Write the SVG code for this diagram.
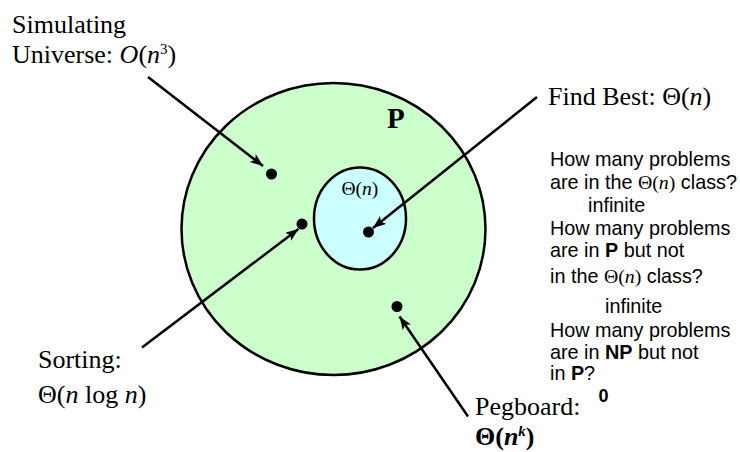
<svg xmlns="http://www.w3.org/2000/svg" width="740" height="452" viewBox="0 0 740 452">
<style>
.t{font-family:"Liberation Serif","Times New Roman",serif;font-size:26px;fill:#000}
.a{font-family:"Liberation Sans",Arial,sans-serif;font-size:19.8px;fill:#000}
.i{font-style:italic}
.b{font-weight:bold}
.ser{font-family:"Liberation Serif","Times New Roman",serif}
.sup{font-size:15px}
.fp{font-size:29px}
.fth{font-size:19.5px}
.fz{font-size:18px}
.ring{stroke:#000;stroke-width:2.5}
.con{stroke:#000;stroke-width:2.5;fill:none;marker-end:url(#ah)}
</style>
<defs>
<marker id="ah" markerUnits="userSpaceOnUse" markerWidth="14" markerHeight="10" refX="13" refY="5" orient="auto">
<path d="M0,0 L13,5 L0,10 L3,5 z" fill="#000"/>
</marker>
</defs>
<rect width="740" height="452" fill="#fff"/>
<g id="P">
<ellipse class="ring" cx="333.5" cy="229" rx="152" ry="146" fill="#ccffcc"/>
<text class="t b fp" x="387" y="128">P</text>
</g>
<g id="theta-n">
<ellipse class="ring" cx="360" cy="218.5" rx="46" ry="51" fill="#ccffff"/>
<text class="t fth" x="341.5" y="195">Θ(<tspan class="i">n</tspan>)</text>
</g>
<g id="dot-sim"><circle cx="271.5" cy="174" r="5.5" fill="#000"/></g>
<g id="dot-sort"><circle cx="302" cy="224" r="5.5" fill="#000"/></g>
<g id="dot-best"><circle cx="368.5" cy="232" r="5.5" fill="#000"/></g>
<g id="dot-peg"><circle cx="397" cy="306.5" r="5.5" fill="#000"/></g>
<g id="connectors">
<line class="con" x1="148" y1="77" x2="263" y2="166"/>
<line class="con" x1="142" y1="347.5" x2="298.5" y2="229"/>
<line class="con" x1="537" y1="97" x2="373" y2="228"/>
<line class="con" x1="468" y1="416.5" x2="399.5" y2="316.5"/>
</g>
<g id="label-sim">
<text class="t" x="12" y="33">Simulating</text>
<text class="t" x="12" y="63">Universe: <tspan class="i">O</tspan>(<tspan class="i">n</tspan><tspan class="sup" dy="-9">3</tspan><tspan dy="9">)</tspan></text>
</g>
<g id="label-best">
<text class="t" x="548" y="105">Find Best: Θ(<tspan class="i">n</tspan>)</text>
</g>
<g id="label-sort">
<text class="t" x="38" y="368">Sorting:</text>
<text class="t" x="38" y="403">Θ(<tspan class="i">n</tspan> log <tspan class="i">n</tspan>)</text>
</g>
<g id="label-peg">
<text class="t" x="475" y="415">Pegboard:</text>
<text class="t b" x="475" y="445">Θ(<tspan class="i">n</tspan><tspan class="i sup" dy="-9">k</tspan><tspan dy="9">)</tspan></text>
</g>
<g id="questions">
<text class="a" x="550" y="166">How many problems</text>
<text class="a" x="550" y="189">are in the <tspan class="ser">Θ(<tspan class="i">n</tspan>)</tspan> class?</text>
<text class="a" x="588" y="212">infinite</text>
<text class="a" x="550" y="235">How many problems</text>
<text class="a" x="550" y="257">are in <tspan class="b">P</tspan> but not</text>
<text class="a" x="550" y="283">in the <tspan class="ser">Θ(<tspan class="i">n</tspan>)</tspan> class?</text>
<text class="a" x="605" y="313">infinite</text>
<text class="a" x="550" y="337">How many problems</text>
<text class="a" x="550" y="359">are in <tspan class="b">NP</tspan> but not</text>
<text class="a" x="550" y="380">in <tspan class="b">P</tspan>?</text>
<text class="a b fz" x="598.5" y="402">0</text>
</g>
</svg>
